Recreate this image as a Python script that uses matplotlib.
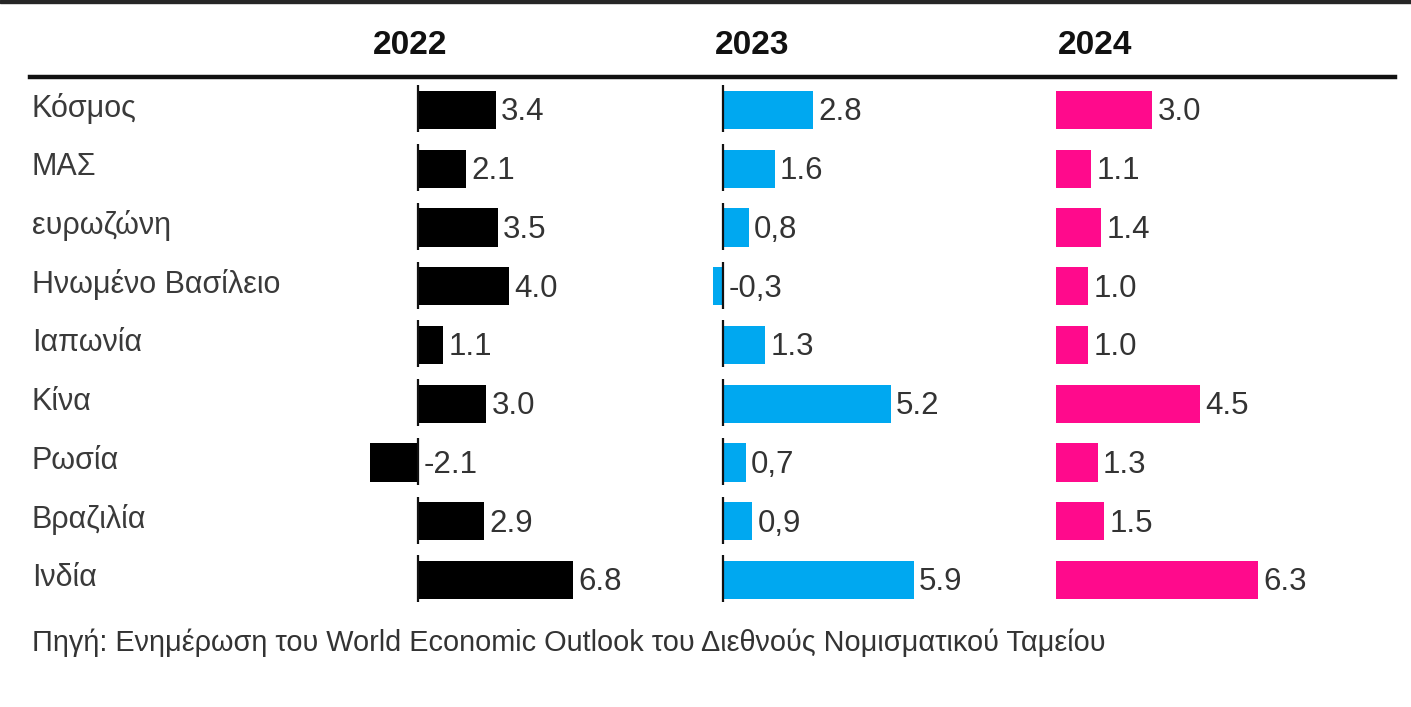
import matplotlib.pyplot as plt
from matplotlib.patches import Rectangle

plt.rcParams['font.family'] = ['Liberation Sans', 'DejaVu Sans']

countries = ['Κόσμος', 'ΜΑΣ', 'ευρωζώνη', 'Ηνωμένο Βασίλειο', 'Ιαπωνία',
             'Κίνα', 'Ρωσία', 'Βραζιλία', 'Ινδία']
years = ['2022', '2023', '2024']

vals_2022 = [3.4, 2.1, 3.5, 4.0, 1.1, 3.0, -2.1, 2.9, 6.8]
vals_2023 = [2.8, 1.6, 0.8, -0.3, 1.3, 5.2, 0.7, 0.9, 5.9]
vals_2024 = [3.0, 1.1, 1.4, 1.0, 1.0, 4.5, 1.3, 1.5, 6.3]

text_2022 = ['3.4', '2.1', '3.5', '4.0', '1.1', '3.0', '-2.1', '2.9', '6.8']
text_2023 = ['2.8', '1.6', '0,8', '-0,3', '1.3', '5.2', '0,7', '0,9', '5.9']
text_2024 = ['3.0', '1.1', '1.4', '1.0', '1.0', '4.5', '1.3', '1.5', '6.3']

source = 'Πηγή: Ενημέρωση του World Economic Outlook του Διεθνούς Νομισματικού Ταμείου'

W, H = 1411, 707
fig = plt.figure(figsize=(W / 100, H / 100), dpi=100)
fig.patch.set_facecolor('white')

# dark strip on top edge
fig.patches.append(Rectangle((0, 1 - 3 / H), 1, 3 / H, transform=fig.transFigure,
                             color='#262626', zorder=0))

# rows: centre of first row at y=110 px, step 58.75 px
row_top = 110 - 29.4
row_bot = 580 + 29.4
n = len(countries)


def make_ax(left_px, right_px, zero_px, px_per_unit):
    ax = fig.add_axes([left_px / W, (H - row_bot) / H,
                       (right_px - left_px) / W, (row_bot - row_top) / H])
    ax.set_xlim((left_px - zero_px) / px_per_unit, (right_px - zero_px) / px_per_unit)
    ax.set_ylim(n - 0.5, -0.5)
    ax.axis('off')
    return ax


panels = [
    (make_ax(330, 690, 418, 22.8), vals_2022, text_2022, '#000000', True),
    (make_ax(690, 1040, 723, 32.3), vals_2023, text_2023, '#00a8f0', True),
    (make_ax(1040, 1400, 1056, 32.0), vals_2024, text_2024, '#ff0a8c', False),
]

ypos = list(range(n))
for ax, vals, txts, col, axis_line in panels:
    ax.barh(ypos, vals, height=0.65, color=col, zorder=2)
    if axis_line:
        for y in ypos:
            ax.vlines(0, y - 0.42, y + 0.38, color='#111111', linewidth=1.6, zorder=3)
    scale = ax.get_xlim()[1] - ax.get_xlim()[0]
    pad = scale * 0.015
    for y, v, t in zip(ypos, vals, txts):
        x = max(v, 0) + pad
        ax.text(x, y + 0.04, t, ha='left', va='center', fontsize=22.5, color='#333333')

# country labels
lab_ax = make_ax(0, 330, 0, 1.0)
for y, c in zip(ypos, countries):
    lab_ax.text(32, y - 0.03, c, ha='left', va='center', fontsize=22, color='#3a3a3a')

# year headers
for x_px, yr in zip([410, 752, 1095], years):
    fig.text(x_px / W, 1 - 45 / H, yr, ha='center', va='center',
             fontsize=24, fontweight='bold', color='#111111')

# thick rule under the headers
fig.add_artist(plt.Line2D([30 / W, 1395 / W], [1 - 77 / H, 1 - 77 / H],
                          color='#111111', linewidth=3.2))

fig.text(32 / W, 1 - 643 / H, source, ha='left', va='center',
         fontsize=20.8, color='#333333')

plt.savefig('out.png', dpi=100, facecolor='white')
